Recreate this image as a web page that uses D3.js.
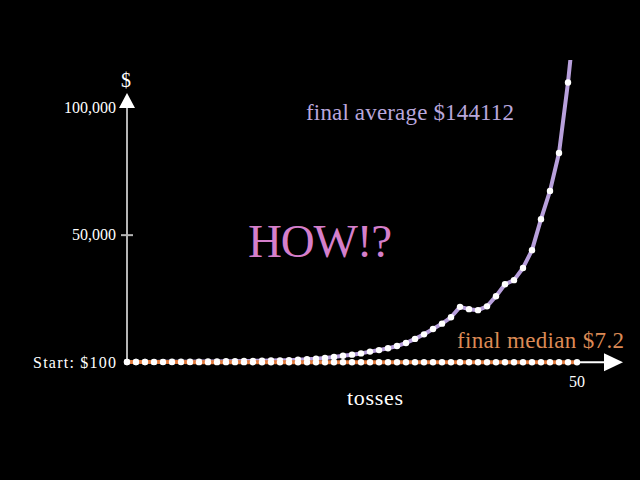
<!DOCTYPE html>
<html>
<head>
<meta charset="utf-8">
<script src="https://cdn.jsdelivr.net/npm/d3@7"></script>
<style>
	html, body { margin: 0; padding: 0; background: #000; }
	svg { display: block; }
	text { font-family: 'Liberation Serif', 'DejaVu Serif', serif; }
</style>
</head>
<body>
<script>
'use strict';

// values
const tosses = d3.range(0, 51);
const average = [
	100, 115, 130, 150, 170, 195, 220, 250, 285, 320,
	360, 400, 450, 500, 560, 620, 690, 760, 850, 1000,
	1200, 1400, 1700, 2100, 2600, 3000, 3500, 4200, 4800, 5500,
	6400, 7600, 9200, 11000, 13100, 15200, 17700, 21800, 20900, 20500,
	22000, 26000, 30700, 32300, 37100, 44100, 56300, 67400, 82300, 110000,
	144112
];
const median = [
	100, 95, 90, 86, 81, 77, 73, 69, 66, 62,
	59, 56, 53, 50, 48, 45, 43, 41, 39, 37,
	35, 33, 31, 30, 28, 27, 25, 24, 23, 21,
	20, 19, 18, 17, 16.5, 15.5, 15, 14, 13.5, 12.5,
	12, 11.5, 11, 10, 9.8, 9.3, 8.8, 8.4, 8, 7.6,
	7.2
];
const yTicks = [50000, 100000];

const width = 640, height = 480;
const x = d3.scaleLinear().domain([0, 50]).range([127, 577]);
const y = d3.scaleLinear().domain([0, 100000]).range([362.3, 108]);

const svg = d3.select('body').append('svg')
	.attr('width', width)
	.attr('height', height);

svg.append('defs').append('clipPath')
	.attr('id', 'clip')
	.append('rect')
		.attr('x', 0).attr('y', 60)
		.attr('width', width).attr('height', height - 60);

// axes
svg.append('line')
	.attr('x1', x(0)).attr('x2', x(0))
	.attr('y1', y(0)).attr('y2', 106)
	.attr('stroke', '#b5b5b5').attr('stroke-width', 2);
svg.append('path')
	.attr('d', `M${x(0) - 8},108 L${x(0) + 8},108 L${x(0)},93 Z`)
	.attr('fill', '#fff');

svg.append('line')
	.attr('x1', x(0)).attr('x2', 606)
	.attr('y1', y(0)).attr('y2', y(0))
	.attr('stroke', '#fff').attr('stroke-width', 2);
svg.append('path')
	.attr('d', `M604,${y(0) - 9} L604,${y(0) + 9} L623,${y(0)} Z`)
	.attr('fill', '#fff');

svg.selectAll('line.ytick').data(yTicks.slice(0, 1)).enter().append('line')
	.attr('class', 'ytick')
	.attr('x1', x(0) - 6).attr('x2', x(0) + 6)
	.attr('y1', d => y(d)).attr('y2', d => y(d))
	.attr('stroke', '#b5b5b5').attr('stroke-width', 2);

svg.selectAll('text.ylab').data(yTicks).enter().append('text')
	.attr('class', 'ylab')
	.attr('x', 116)
	.attr('y', d => y(d) + 5)
	.attr('text-anchor', 'end')
	.attr('fill', '#fff')
	.attr('font-size', 16)
	.text(d3.format(','));

svg.append('text')
	.attr('x', 116).attr('y', y(0) + 6)
	.attr('text-anchor', 'end')
	.attr('fill', '#fff')
	.attr('font-size', 16)
	.attr('textLength', 83)
	.attr('lengthAdjust', 'spacing')
	.text('Start: $100');

svg.append('text')
	.attr('x', 126).attr('y', 87)
	.attr('text-anchor', 'middle')
	.attr('fill', '#fff')
	.attr('font-size', 20)
	.text('$');

svg.append('text')
	.attr('x', x(50)).attr('y', 387)
	.attr('text-anchor', 'middle')
	.attr('fill', '#fff')
	.attr('font-size', 16)
	.text('50');

svg.append('text')
	.attr('x', 347).attr('y', 405)
	.attr('fill', '#fff')
	.attr('font-size', 22)
	.attr('textLength', 56)
	.attr('lengthAdjust', 'spacing')
	.text('tosses');

// series
const line = d3.line()
	.x((d, i) => x(tosses[i]))
	.y(d => y(d));

const avgG = svg.append('g').attr('clip-path', 'url(#clip)');
avgG.append('path')
	.datum(average)
	.attr('d', line)
	.attr('fill', 'none')
	.attr('stroke', '#b8a0dc')
	.attr('stroke-width', 4)
	.attr('stroke-linejoin', 'round');

const medG = svg.append('g');
medG.append('path')
	.datum(median)
	.attr('d', line)
	.attr('fill', 'none')
	.attr('stroke', '#e0783a')
	.attr('stroke-width', 4);

avgG.selectAll('circle').data(average).enter().append('circle')
	.attr('cx', (d, i) => x(tosses[i]))
	.attr('cy', d => y(d))
	.attr('r', 3.2)
	.attr('fill', '#fff');

medG.selectAll('circle').data(median).enter().append('circle')
	.attr('cx', (d, i) => x(tosses[i]))
	.attr('cy', d => y(d))
	.attr('r', 3.2)
	.attr('fill', '#fff');

// annotations
svg.append('text')
	.attr('x', 306).attr('y', 120)
	.attr('fill', '#b9a7dc')
	.attr('font-size', 23)
	.attr('textLength', 208)
	.attr('lengthAdjust', 'spacing')
	.text('final average $144112');

svg.append('text')
	.attr('x', 457).attr('y', 348)
	.attr('fill', '#dc8a55')
	.attr('font-size', 23)
	.attr('textLength', 167)
	.attr('lengthAdjust', 'spacing')
	.text('final median $7.2');

svg.append('text')
	.attr('x', 248).attr('y', 257)
	.attr('fill', '#d57fcb')
	.attr('font-size', 47)
	.attr('textLength', 144)
	.attr('lengthAdjust', 'spacing')
	.text('HOW!?');
</script>
</body>
</html>
